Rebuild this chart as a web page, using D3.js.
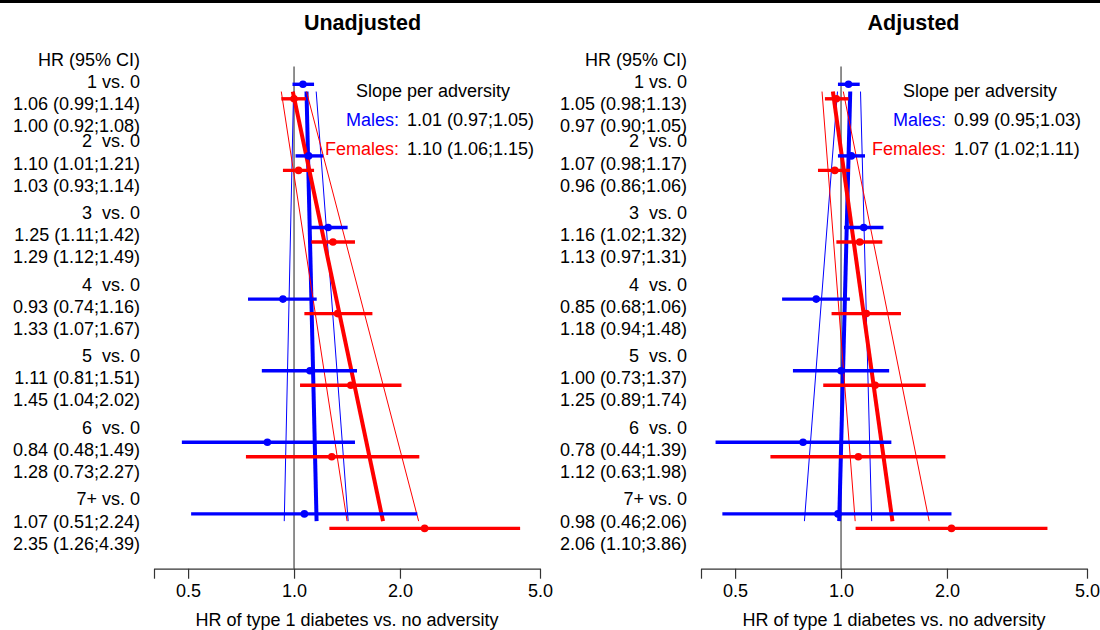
<!DOCTYPE html>
<html>
<head>
<meta charset="utf-8">
<script src="https://cdn.jsdelivr.net/npm/d3@7"></script>
<style>
  html, body { margin: 0; padding: 0; background: #fff; }
  svg text { font-family: "Liberation Sans", Arial, Helvetica, sans-serif; white-space: pre; }
</style>
</head>
<body>
<svg id="chart" width="1100" height="630"></svg>
<script>
// ---------------- DATA ----------------
const panels = ["Unadjusted", "Adjusted"];
const groups = ["1 vs. 0", "2  vs. 0", "3  vs. 0", "4  vs. 0", "5  vs. 0", "6  vs. 0", "7+ vs. 0"];

// Unadjusted
const unadjMaleHR  = [1.06, 1.10, 1.25, 0.93, 1.11, 0.84, 1.07];
const unadjMaleLo  = [0.99, 1.01, 1.11, 0.74, 0.81, 0.48, 0.51];
const unadjMaleHi  = [1.14, 1.21, 1.42, 1.16, 1.51, 1.49, 2.24];
const unadjFemHR   = [1.00, 1.03, 1.29, 1.33, 1.45, 1.28, 2.35];
const unadjFemLo   = [0.92, 0.93, 1.12, 1.07, 1.04, 0.73, 1.26];
const unadjFemHi   = [1.08, 1.14, 1.49, 1.67, 2.02, 2.27, 4.39];
const unadjSlopeText = ["1.01 (0.97;1.05)", "1.10 (1.06;1.15)"];
// fitted trend lines: HR at first group, HR at last group [fit, lower, upper]
const unadjMaleTrend = { fit: [1.085, 1.159], lo: [0.997, 0.938], hi: [1.156, 1.425] };
const unadjFemTrend  = { fit: [0.992, 1.79],  lo: [0.92, 1.415],  hi: [1.085, 2.26] };

// Adjusted
const adjMaleHR  = [1.05, 1.07, 1.16, 0.85, 1.00, 0.78, 0.98];
const adjMaleLo  = [0.98, 0.98, 1.02, 0.68, 0.73, 0.44, 0.46];
const adjMaleHi  = [1.13, 1.17, 1.32, 1.06, 1.37, 1.39, 2.06];
const adjFemHR   = [0.97, 0.96, 1.13, 1.18, 1.25, 1.12, 2.06];
const adjFemLo   = [0.90, 0.86, 0.97, 0.94, 0.89, 0.63, 1.10];
const adjFemHi   = [1.05, 1.06, 1.31, 1.48, 1.74, 1.98, 3.86];
const adjSlopeText = ["0.99 (0.95;1.03)", "1.07 (1.02;1.11)"];
const adjMaleTrend = { fit: [1.062, 0.988], lo: [0.977, 0.787], hi: [1.136, 1.222] };
const adjFemTrend  = { fit: [0.948, 1.40],  lo: [0.883, 1.097], hi: [1.015, 1.78] };

const xTicks = [0.4, 0.5, 1.0, 2.0, 5.0];
const xTickLabels = ["", "0.5", "1.0", "2.0", "5.0"];
const sexLabels = ["Males:", "Females:"];
const headerText = "HR (95% CI)";
const legendTitle = "Slope per adversity";
const axisTitle = "HR of type 1 diabetes vs. no adversity";

// ---------------- LAYOUT ----------------
const svg = d3.select("#chart");
const BLUE = "#0000ff", RED = "#ff0000";
const FS = 18;

svg.append("rect").attr("x", 0).attr("y", 0).attr("width", 1100).attr("height", 3).attr("fill", "#000");

const fmt = d3.format(".2f");
const ciText = (h, l, u) => `${fmt(h)} (${fmt(l)};${fmt(u)})`;

const panelData = [
  { title: panels[0], mHR: unadjMaleHR, mLo: unadjMaleLo, mHi: unadjMaleHi,
    fHR: unadjFemHR, fLo: unadjFemLo, fHi: unadjFemHi, slope: unadjSlopeText,
    mTrend: unadjMaleTrend, fTrend: unadjFemTrend, dx: 0 },
  { title: panels[1], mHR: adjMaleHR, mLo: adjMaleLo, mHi: adjMaleHi,
    fHR: adjFemHR, fLo: adjFemLo, fHi: adjFemHi, slope: adjSlopeText,
    mTrend: adjMaleTrend, fTrend: adjFemTrend, dx: 547 }
];

// y position of male row per group
const yMale = d3.scaleLinear().domain([0, 6]).range([84.3, 513.9]);
const femOff = 14.5;
const trendY = [yMale(0) + femOff / 2, yMale(6) + femOff / 2];

panelData.forEach(p => {
  const g = svg.append("g").attr("transform", `translate(${p.dx},0)`);
  const x = d3.scaleLog().domain([0.4, 5]).range([154, 540]);

  // title
  g.append("text").attr("x", 362.5 + (p.dx ? 4 : 0)).attr("y", 23)
    .attr("text-anchor", "middle").attr("dominant-baseline", "central")
    .attr("font-weight", "bold").attr("font-size", 21.5).text(p.title);

  // labels column
  const labX = 140;
  const lab = g.append("g").attr("font-size", FS).attr("text-anchor", "end").attr("fill", "#000");
  lab.append("text").attr("x", labX).attr("y", 60).attr("dominant-baseline", "central").text(headerText);
  groups.forEach((name, i) => {
    const shift = i === 0 ? 11.7 : 0;
    const ym = yMale(i);
    lab.append("text").attr("x", labX).attr("y", ym - 14.5 + shift).attr("dominant-baseline", "central").text(name);
    lab.append("text").attr("x", labX).attr("y", ym + 7.7 + shift).attr("dominant-baseline", "central")
      .text(ciText(p.mHR[i], p.mLo[i], p.mHi[i]));
    lab.append("text").attr("x", labX).attr("y", ym + 29.6 + shift).attr("dominant-baseline", "central")
      .text(ciText(p.fHR[i], p.fLo[i], p.fHi[i]));
  });

  // reference line at 1
  g.append("line").attr("x1", x(1)).attr("x2", x(1)).attr("y1", 66.5).attr("y2", 568.7)
    .attr("stroke", "#444").attr("stroke-width", 1.2);

  // trend lines
  const trend = (t, col) => {
    [["lo", 1], ["hi", 1], ["fit", 4]].forEach(([k, w]) => {
      g.append("line")
        .attr("x1", x(t[k][0])).attr("y1", trendY[0])
        .attr("x2", x(t[k][1])).attr("y2", trendY[1])
        .attr("stroke", col).attr("stroke-width", w);
    });
  };
  trend(p.mTrend, BLUE);
  trend(p.fTrend, RED);

  // CI bars and points
  const bars = (hr, lo, hi, off, col) => {
    hr.forEach((h, i) => {
      const y = yMale(i) + off;
      g.append("line").attr("x1", x(lo[i])).attr("x2", x(hi[i])).attr("y1", y).attr("y2", y)
        .attr("stroke", col).attr("stroke-width", 3.4);
      g.append("circle").attr("cx", x(h)).attr("cy", y).attr("r", 3.8).attr("fill", col);
    });
  };
  bars(p.mHR, p.mLo, p.mHi, 0, BLUE);
  bars(p.fHR, p.fLo, p.fHi, femOff, RED);

  // legend
  const leg = g.append("g").attr("font-size", FS);
  leg.append("text").attr("x", 356).attr("y", 91).attr("dominant-baseline", "central").text(legendTitle);
  [BLUE, RED].forEach((col, i) => {
    const y = 120 + i * 29;
    leg.append("text").attr("x", 399).attr("y", y).attr("text-anchor", "end")
      .attr("dominant-baseline", "central").attr("fill", col).text(sexLabels[i]);
    leg.append("text").attr("x", 407).attr("y", y).attr("dominant-baseline", "central")
      .attr("fill", "#000").text(p.slope[i]);
  });

  // axis
  const axis = d3.axisBottom(x).tickValues(xTicks)
    .tickFormat((d, i) => xTickLabels[i]).tickSize(10).tickPadding(6).tickSizeOuter(0);
  const ax = g.append("g").attr("transform", "translate(0,568.7)").call(axis);
  ax.select(".domain").attr("stroke", "#333").attr("stroke-width", 1.2);
  ax.selectAll(".tick line").attr("stroke", "#333").attr("stroke-width", 1.2);
  ax.selectAll(".tick text").attr("font-size", FS).attr("fill", "#000")
    .attr("font-family", '"Liberation Sans", Arial, sans-serif');

  g.append("text").attr("x", (x.range()[0] + x.range()[1]) / 2).attr("y", 619.5)
    .attr("text-anchor", "middle").attr("dominant-baseline", "central").attr("font-size", FS)
    .text(axisTitle);
});
</script>
</body>
</html>
